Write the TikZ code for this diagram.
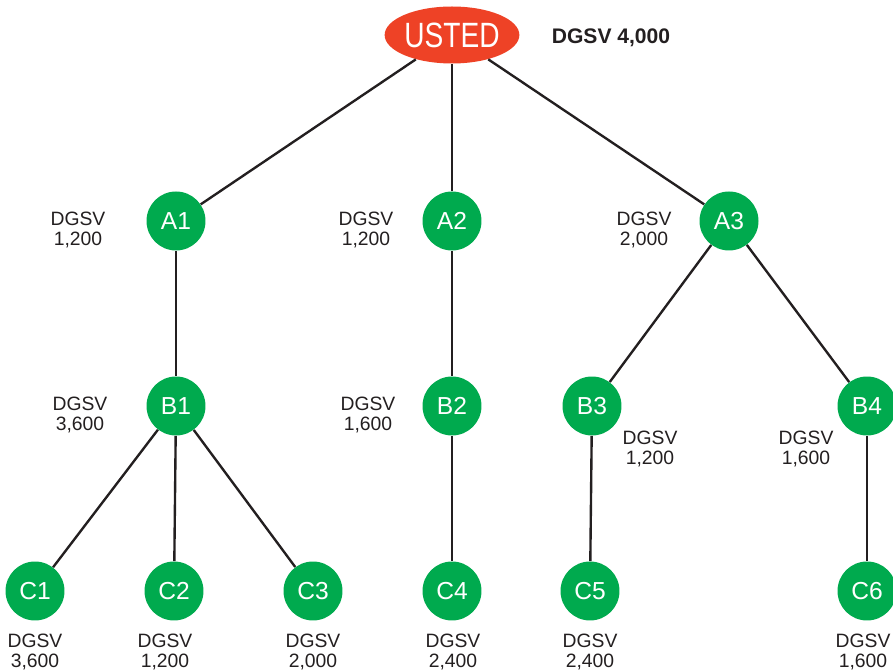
\documentclass[tikz,border=0pt]{standalone}
\usepackage{fontspec}
\setmainfont{Liberation Sans}
\usetikzlibrary{shapes.geometric}
\definecolor{nodegreen}{RGB}{0,170,78}
\definecolor{rootred}{RGB}{238,66,38}
\definecolor{ink}{RGB}{35,31,32}

\begin{document}
\begin{tikzpicture}[x=0.02cm,y=-0.02cm,
        vert/.style={circle,fill=nodegreen,minimum size=1.18cm,inner sep=0pt,
            text=white,font=\fontsize{14}{14}\selectfont},
        cost/.style={align=center,text=ink,font=\fontsize{11}{11.6}\selectfont},
        branch/.style={draw=ink,line width=1.35pt}]
    \useasboundingbox (0,0) rectangle (893,671);
    % root
    \node[ellipse,fill=rootred,minimum width=2.62cm,minimum height=1.14cm,inner sep=0pt,
        text=white,font=\fontsize{20}{20}\selectfont] (usted) at (452,35) {\scalebox{0.8}[1]{USTED}};
    \node[text=ink,font=\bfseries\fontsize{12}{12}\selectfont] (ucost) at (611,38) {DGSV 4,000};
    % first level
    \node[vert] (a1) at (176,221) {A1};
    \node[vert] (a2) at (452,221) {A2};
    \node[vert] (a3) at (729,221) {A3};
    \node[cost] (a1c) at (78,230) {DGSV\\1,200};
    \node[cost] (a2c) at (366,230) {DGSV\\1,200};
    \node[cost] (a3c) at (644,230) {DGSV\\2,000};
    % second level
    \node[vert] (b1) at (176,406) {B1};
    \node[vert] (b2) at (452,406) {B2};
    \node[vert] (b3) at (592,406) {B3};
    \node[vert] (b4) at (867,406) {B4};
    \node[cost] (b1c) at (80,415) {DGSV\\3,600};
    \node[cost] (b2c) at (368,415) {DGSV\\1,600};
    \node[cost] (b3c) at (650,449) {DGSV\\1,200};
    \node[cost] (b4c) at (806,449) {DGSV\\1,600};
    % third level
    \node[vert] (c1) at (35,591) {C1};
    \node[vert] (c2) at (174,591) {C2};
    \node[vert] (c3) at (313,591) {C3};
    \node[vert] (c4) at (452,591) {C4};
    \node[vert] (c5) at (590,591) {C5};
    \node[vert] (c6) at (867,591) {C6};
    \node[cost] (c1c) at (35,652) {DGSV\\3,600};
    \node[cost] (c2c) at (165,652) {DGSV\\1,200};
    \node[cost] (c3c) at (313,652) {DGSV\\2,000};
    \node[cost] (c4c) at (453,652) {DGSV\\2,400};
    \node[cost] (c5c) at (590,652) {DGSV\\2,400};
    \node[cost] (c6c) at (863,652) {DGSV\\1,600};
    % branches
    \draw[branch] (usted) -- (a1);
    \draw[branch] (usted) -- (a2);
    \draw[branch] (usted) -- (a3);
    \draw[branch] (a1) -- (b1);
    \draw[branch] (a2) -- (b2);
    \draw[branch] (a3) -- (b3);
    \draw[branch] (a3) -- (b4);
    \draw[branch] (b1) -- (c1);
    \draw[branch] (b1) -- (c2);
    \draw[branch] (b1) -- (c3);
    \draw[branch] (b2) -- (c4);
    \draw[branch] (b3) -- (c5);
    \draw[branch] (b4) -- (c6);
\end{tikzpicture}
\end{document}
